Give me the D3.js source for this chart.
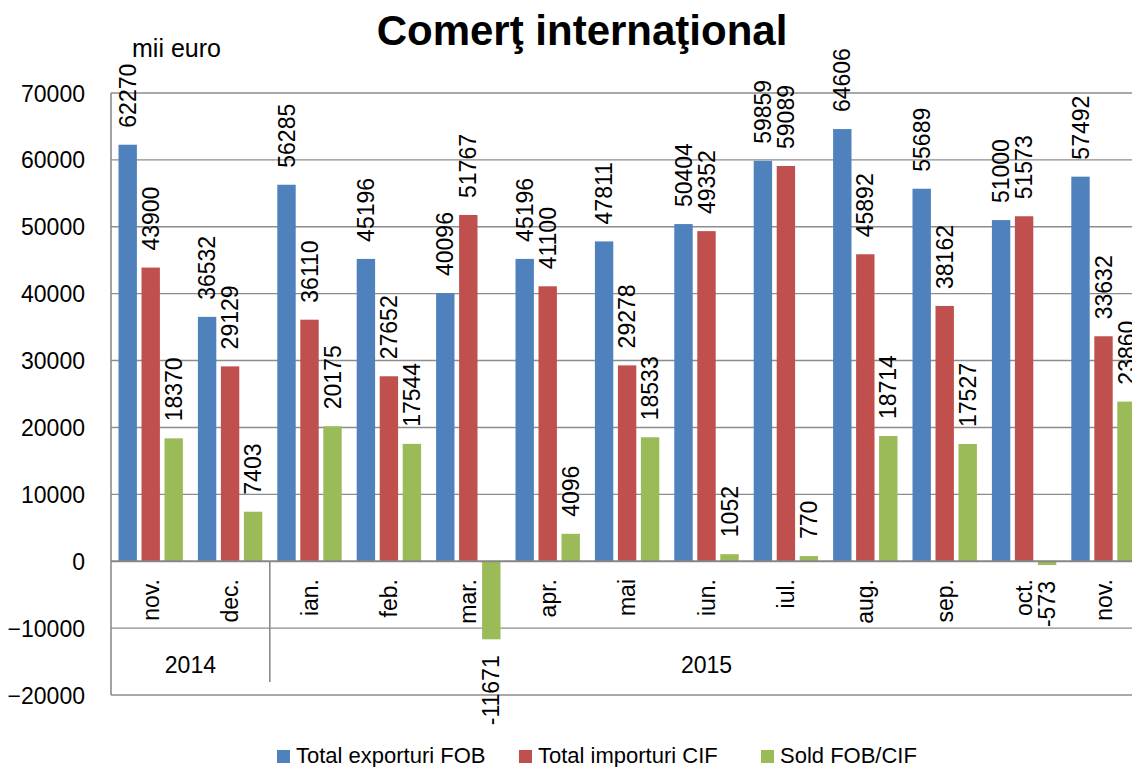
<!DOCTYPE html>
<html>
<head>
<meta charset="utf-8">
<script src="https://cdn.jsdelivr.net/npm/d3@7"></script>
<style>
  html, body { margin: 0; padding: 0; background: #fff; }
  svg { display: block; font-family: "Liberation Sans", Arial, sans-serif; }
</style>
</head>
<body>
<svg id="chart" width="1132" height="767"></svg>
<script>
const months = ["nov.", "dec.", "ian.", "feb.", "mar.", "apr.", "mai", "iun.", "iul.", "aug.", "sep.", "oct.", "nov."];
const years = [{ label: "2014", from: 0, to: 1 }, { label: "2015", from: 2, to: 12 }];
const seriesNames = ["Total exporturi FOB", "Total importuri CIF", "Sold FOB/CIF"];
const exporturi = [62270, 36532, 56285, 45196, 40096, 45196, 47811, 50404, 59859, 64606, 55689, 51000, 57492];
const importuri = [43900, 29129, 36110, 27652, 51767, 41100, 29278, 49352, 59089, 45892, 38162, 51573, 33632];
const sold = [18370, 7403, 20175, 17544, -11671, 4096, 18533, 1052, 770, 18714, 17527, -573, 23860];
const yTicks = [-20000, -10000, 0, 10000, 20000, 30000, 40000, 50000, 60000, 70000];
const colors = ["#4F81BD", "#C0504D", "#9BBB59"];
const title = "Comerţ internaţional";
const unit = "mii euro";

const seriesValues = [exporturi, importuri, sold];
const svg = d3.select("#chart");

const left = 111, catW = 79.4;
const x = d3.scaleBand().domain(d3.range(months.length)).range([left, left + catW * months.length]).padding(0);
const xs = d3.scaleBand().domain(d3.range(3)).range([5.2, 74.2]).paddingInner(0.2).paddingOuter(0.1);
const y = d3.scaleLinear().domain([-20000, 70000]).range([695, 93]);

// gridlines
svg.append("g").selectAll("line").data(yTicks.filter(d => d !== 0)).join("line")
  .attr("x1", left).attr("x2", 1132)
  .attr("y1", d => y(d)).attr("y2", d => y(d))
  .attr("stroke", "#8c8c8c").attr("stroke-width", 1.4);

// y axis labels
const yAxis = d3.axisLeft(y).tickValues(yTicks).tickSize(0).tickPadding(0).tickFormat(d3.format("d"));
const ya = svg.append("g").attr("transform", `translate(85,0)`).call(yAxis);
ya.select(".domain").remove();
ya.selectAll("text").attr("font-size", 23).attr("fill", "#000")
  .attr("font-family", "Liberation Sans, Arial, sans-serif").attr("dy", "0.35em");

// left axis line
svg.append("line").attr("x1", left).attr("x2", left).attr("y1", y(70000)).attr("y2", y(-20000))
  .attr("stroke", "#8c8c8c").attr("stroke-width", 1.6);

// bars
const gCats = svg.append("g").selectAll("g").data(months).join("g")
  .attr("transform", (d, i) => `translate(${x(i)},0)`);
seriesValues.forEach((vals, s) => {
  gCats.append("rect")
    .attr("x", xs(s)).attr("width", xs.bandwidth())
    .attr("y", (d, i) => Math.min(y(vals[i]), y(0)))
    .attr("height", (d, i) => Math.abs(y(vals[i]) - y(0)))
    .attr("fill", colors[s]);
});

// zero axis line
svg.append("line").attr("x1", left).attr("x2", 1132).attr("y1", y(0)).attr("y2", y(0))
  .attr("stroke", "#868686").attr("stroke-width", 2);

// year separator
svg.append("line").attr("x1", x(2)).attr("x2", x(2)).attr("y1", y(0)).attr("y2", 682)
  .attr("stroke", "#8c8c8c").attr("stroke-width", 1.6);

// data labels
seriesValues.forEach((vals, s) => {
  gCats.append("text")
    .attr("transform", (d, i) => {
      const v = vals[i];
      const cx = xs(s) + xs.bandwidth() / 2;
      const yy = v >= 0 ? y(v) - 17 : y(v) + 16;
      return `translate(${cx},${yy}) rotate(-90)`;
    })
    .attr("text-anchor", (d, i) => vals[i] >= 0 ? "start" : "end")
    .attr("dominant-baseline", "central")
    .attr("font-size", 23)
    .text((d, i) => vals[i]);
});

// month labels
gCats.append("text")
  .attr("transform", `translate(${x.bandwidth() / 2},579) rotate(-90)`)
  .attr("text-anchor", "end").attr("dominant-baseline", "central")
  .attr("font-size", 23)
  .text(d => d);

// year labels
svg.append("g").selectAll("text").data(years).join("text")
  .attr("x", d => (x(d.from) + x(d.to) + x.bandwidth()) / 2)
  .attr("y", 665).attr("text-anchor", "middle").attr("dominant-baseline", "central")
  .attr("font-size", 23)
  .text(d => d.label);

// title
svg.append("text").attr("x", 582).attr("y", 45).attr("text-anchor", "middle")
  .attr("font-size", 42).attr("font-weight", "bold").text(title);

// unit
svg.append("text").attr("x", 132).attr("y", 57).attr("font-size", 25).text(unit);

// legend
const legendX = [277, 519, 761];
const lg = svg.append("g").selectAll("g").data(seriesNames).join("g")
  .attr("transform", (d, i) => `translate(${legendX[i]},750)`);
lg.append("rect").attr("width", 13).attr("height", 13).attr("fill", (d, i) => colors[i]);
lg.append("text").attr("x", 19).attr("y", 13).attr("font-size", 22).text(d => d);
</script>
</body>
</html>
